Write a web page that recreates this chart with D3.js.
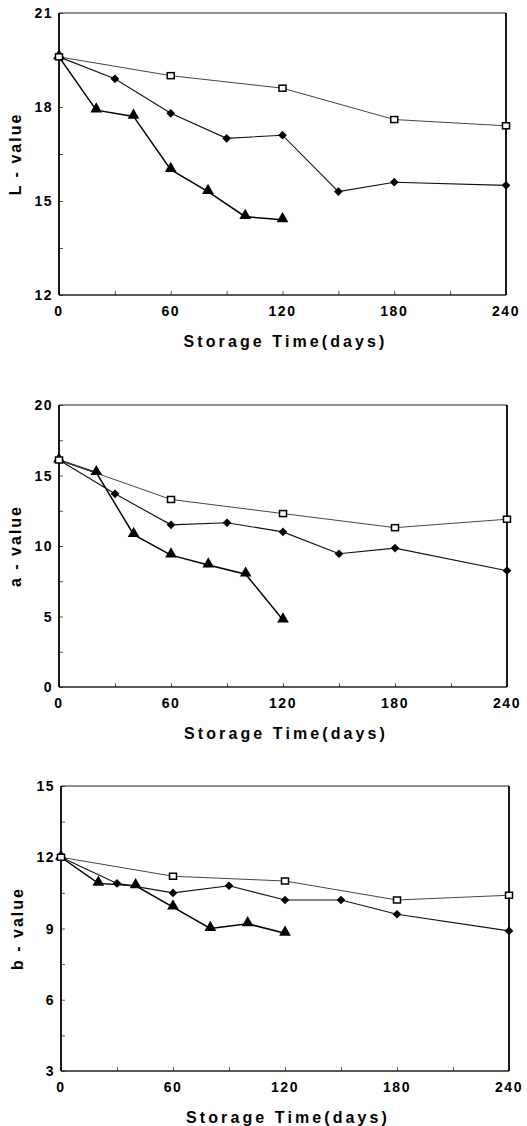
<!DOCTYPE html>
<html><head><meta charset="utf-8">
<script src="https://cdn.jsdelivr.net/npm/d3@7"></script>
<style>
html,body{margin:0;padding:0;background:#fff;}
svg{display:block;}
text{font-family:"Liberation Sans",Arial,Helvetica,sans-serif;font-weight:bold;fill:#000;}
</style></head>
<body>
<svg id="chart" width="527" height="1126"></svg>
<script>
// ---- data ----
const xTicks = [0, 60, 120, 180, 240];
const xTitle = "Storage Time(days)";

const squareDays = [0, 60, 120, 180, 240];
const diamondDays = [0, 30, 60, 90, 120, 150, 180, 240];
const triangleDays = [0, 20, 40, 60, 80, 100, 120];

const L_square = [19.6, 19.0, 18.6, 17.6, 17.4];
const L_diamond = [19.6, 18.9, 17.8, 17.0, 17.1, 15.3, 15.6, 15.5];
const L_triangle = [19.6, 17.9, 17.7, 16.0, 15.3, 14.5, 14.4];
const L_ticks = [12, 15, 18, 21];

const a_square = [16.1, 13.3, 12.3, 11.3, 11.9];
const a_diamond = [16.1, 13.7, 11.5, 11.65, 11.0, 9.45, 9.85, 8.25];
const a_triangle = [16.1, 15.2, 10.8, 9.35, 8.65, 8.0, 4.75];
const a_ticks = [0, 5, 10, 15, 20];

const b_square = [12.0, 11.2, 11.0, 10.2, 10.4];
const b_diamond = [12.0, 10.9, 10.5, 10.8, 10.2, 10.2, 9.6, 8.9];
const b_triangle = [12.0, 10.9, 10.8, 9.9, 9.0, 9.2, 8.8];
const b_ticks = [3, 6, 9, 12, 15];

const panels = [
  {label: "L - value", ticks: L_ticks, sq: L_square, di: L_diamond, tr: L_triangle,
   box: {x0: 59, x1: 506, y0: 13, y1: 295}},
  {label: "a - value", ticks: a_ticks, sq: a_square, di: a_diamond, tr: a_triangle,
   box: {x0: 59, x1: 507, y0: 405, y1: 687}},
  {label: "b - value", ticks: b_ticks, sq: b_square, di: b_diamond, tr: b_triangle,
   box: {x0: 61, x1: 509, y0: 786, y1: 1071}}
];

const svg = d3.select("#chart");

panels.forEach(p => {
  const b = p.box;
  const x = d3.scaleLinear().domain([0, 240]).range([b.x0, b.x1]);
  const yDom = d3.extent(p.ticks);
  const y = d3.scaleLinear().domain(yDom).range([b.y1, b.y0]);
  const g = svg.append("g");

  // minor + major ticks (inward)
  const step = p.ticks[1] - p.ticks[0];
  const yMinor = d3.range(yDom[0], yDom[1] + 1e-9, step / 2);
  const xMinor = d3.range(0, 241, 30);
  g.append("g").attr("transform", `translate(0,${b.y1})`)
    .call(d3.axisTop(x).tickValues(xMinor).tickSize(4).tickFormat(""))
    .call(s => s.select(".domain").remove())
    .call(s => s.selectAll("line").attr("stroke", "#555").attr("stroke-width", 1));
  g.append("g").attr("transform", `translate(${b.x0},0)`)
    .call(d3.axisRight(y).tickValues(yMinor).tickSize(4).tickFormat(""))
    .call(s => s.select(".domain").remove())
    .call(s => s.selectAll("line").attr("stroke", "#555").attr("stroke-width", 1));

  // frame
  g.append("line").attr("x1", b.x0).attr("x2", b.x1).attr("y1", b.y0).attr("y2", b.y0)
    .attr("stroke", "#222").attr("stroke-width", 1.2);
  g.append("line").attr("x1", b.x0).attr("x2", b.x1).attr("y1", b.y1).attr("y2", b.y1)
    .attr("stroke", "#222").attr("stroke-width", 1.4);
  g.append("line").attr("x1", b.x0).attr("x2", b.x0).attr("y1", b.y0).attr("y2", b.y1)
    .attr("stroke", "#000").attr("stroke-width", 1.8);
  g.append("line").attr("x1", b.x1).attr("x2", b.x1).attr("y1", b.y0).attr("y2", b.y1)
    .attr("stroke", "#000").attr("stroke-width", 1.8);

  // tick labels
  g.selectAll(".xl").data(xTicks).join("text")
    .attr("x", d => x(d)).attr("y", b.y1 + 16).attr("dy", "0.36em")
    .attr("text-anchor", "middle").style("font-size", "14px").style("letter-spacing", "1.5px")
    .text(d => d);
  g.selectAll(".yl").data(p.ticks).join("text")
    .attr("x", b.x0 - 6).attr("y", d => y(d)).attr("dy", "0.36em")
    .attr("text-anchor", "end").style("font-size", "14px").style("letter-spacing", "1.5px")
    .text(d => d);

  // axis titles
  g.append("text").attr("x", (b.x0 + b.x1) / 2 + 3).attr("y", b.y1 + 46).attr("dy", "0.36em")
    .attr("text-anchor", "middle").style("font-size", "16px").style("letter-spacing", "3.1px")
    .text(xTitle);
  g.append("text").attr("transform", `translate(${b.x0 - 44},${(b.y0 + b.y1) / 2}) rotate(-90)`)
    .attr("dy", "0.36em").attr("text-anchor", "middle")
    .style("font-size", "16px").style("letter-spacing", "2px")
    .text(p.label);

  // series
  const line = d3.line().x(d => x(d[0])).y(d => y(d[1]));
  const sq = squareDays.map((d, i) => [d, p.sq[i]]);
  const di = diamondDays.map((d, i) => [d, p.di[i]]);
  const tr = triangleDays.map((d, i) => [d, p.tr[i]]);

  g.append("path").datum(tr).attr("d", line).attr("fill", "none").attr("stroke", "#000").attr("stroke-width", 1.5);
  g.append("path").datum(di).attr("d", line).attr("fill", "none").attr("stroke", "#111").attr("stroke-width", 1.1);
  g.append("path").datum(sq).attr("d", line).attr("fill", "none").attr("stroke", "#444").attr("stroke-width", 1);

  const tri = d3.symbol().type(d3.symbolTriangle).size(60);
  g.selectAll(".tr").data(tr).join("path")
    .attr("transform", d => `translate(${x(d[0])},${y(d[1]) - 1})`).attr("d", tri).attr("fill", "#000");
  g.selectAll(".di").data(di).join("path")
    .attr("transform", d => `translate(${x(d[0])},${y(d[1])}) rotate(45)`)
    .attr("d", d3.symbol().type(d3.symbolSquare).size(38)).attr("fill", "#000");
  g.selectAll(".sq").data(sq).join("rect")
    .attr("x", d => x(d[0]) - 3.5).attr("y", d => y(d[1]) - 3).attr("width", 7).attr("height", 6)
    .attr("fill", "#fff").attr("stroke", "#000").attr("stroke-width", 1.5);
});
</script>
</body></html>
